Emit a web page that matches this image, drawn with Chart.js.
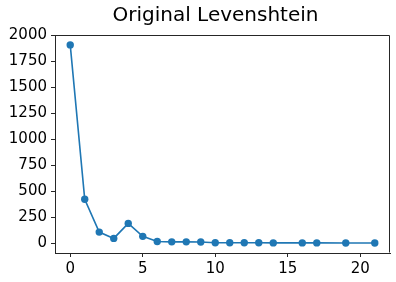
<!DOCTYPE html>
<html>
<head>
<meta charset="utf-8">
<script src="https://cdn.jsdelivr.net/npm/chart.js@4"></script>
<style>
  html, body { margin: 0; padding: 0; background: #fff; }
  #wrap { width: 396px; height: 282px; }
</style>
</head>
<body>
<div id="wrap"><canvas id="chart" width="396" height="282"></canvas></div>
<script>
const title = "Original Levenshtein";
const xs = [0, 1, 2, 3, 4, 5, 6, 7, 8, 9, 10, 11, 12, 13, 14, 16, 17, 19, 21];
const ys = [1910, 422, 106, 45, 190, 65, 16, 12, 12, 10, 4, 3, 3, 3, 2, 2, 2, 1, 1];
const xTicks = [0, 5, 10, 15, 20];
const yTicks = [0, 250, 500, 750, 1000, 1250, 1500, 1750, 2000];

const blue = "#1f77b4";
const dark = "#262626";
const font = "'DejaVu Sans', sans-serif";

// box around the plot, like the matplotlib axes frame
const frame = {
  id: "frame",
  afterLayout(chart) {
    const a = chart.chartArea;
    chart.titleBlock.left = a.left;
    chart.titleBlock.right = a.right - 14;
  },
  afterDraw(chart) {
    const a = chart.chartArea;
    const ctx = chart.ctx;
    const l = Math.round(a.left) + 0.5, t = Math.round(a.top) + 0.5;
    const r = Math.round(a.right) - 0.5, b = Math.round(a.bottom) - 0.5;
    ctx.save();
    ctx.strokeStyle = dark;
    ctx.lineWidth = 1;
    ctx.beginPath();
    ctx.moveTo(l, t);
    ctx.lineTo(r, t);
    ctx.lineTo(r, b);
    ctx.stroke();
    ctx.restore();
  }
};

new Chart(document.getElementById("chart").getContext("2d"), {
  type: "scatter",
  data: {
    datasets: [{
      data: xs.map((x, i) => ({ x: x, y: ys[i] })),
      showLine: true,
      borderColor: blue,
      backgroundColor: blue,
      borderWidth: 1.6,
      pointRadius: 3.7,
      pointHoverRadius: 3.7,
      pointBorderWidth: 0,
    }],
  },
  options: {
    responsive: false,
    animation: false,
    layout: { padding: { left: 0, right: 6, top: 0, bottom: 0 } },
    plugins: {
      legend: { display: false },
      tooltip: { enabled: false },
      title: {
        display: true,
        text: title,
        color: "#000",
        font: { family: font, size: 20, weight: "normal" },
        padding: { top: 4, bottom: 7 },
      },
    },
    scales: {
      x: {
        type: "linear",
        min: -1.05,
        max: 22.05,
        afterBuildTicks: (s) => { s.ticks = xTicks.map((v) => ({ value: v })); },
        afterFit: (s) => { s.height = 29; },
        grid: { drawOnChartArea: false, drawTicks: true, tickLength: 4, color: dark },
        border: { display: true, color: dark },
        ticks: { color: "#000", font: { family: font, size: 15 }, padding: 3, maxRotation: 0,
          callback: (v) => String(v) },
      },
      y: {
        min: -95.5,
        max: 2005.5,
        afterBuildTicks: (s) => { s.ticks = yTicks.map((v) => ({ value: v })); },
        afterFit: (s) => { s.width = 55; },
        grid: { drawOnChartArea: false, drawTicks: true, tickLength: 4, color: dark },
        border: { display: true, color: dark },
        ticks: { color: "#000", font: { family: font, size: 15 }, padding: 4,
          callback: (v) => String(v) },
      },
    },
  },
  plugins: [frame],
});
</script>
</body>
</html>
